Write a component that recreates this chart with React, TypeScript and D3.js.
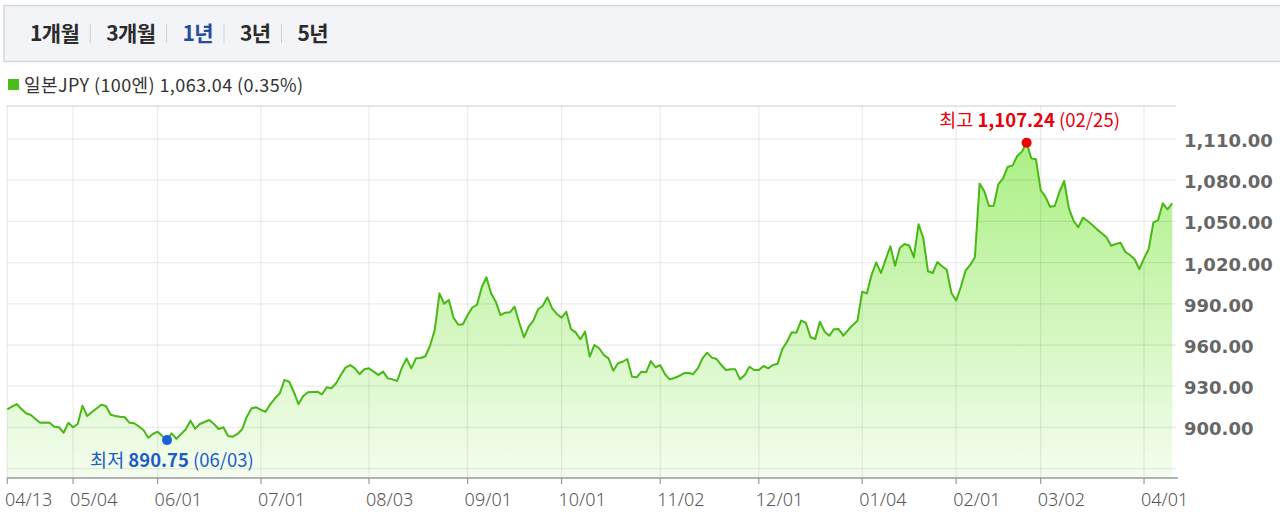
import React, { useEffect, useRef } from 'react';
import * as d3 from 'd3';

// daily rate, 100 JPY
const values = [
  913.2, 915.2, 917.0, 913.4, 910.3, 909.0, 906.1, 903.4, 903.6, 903.4,
  900.5, 900.1, 896.1, 903.4, 900.1, 902.5, 915.8, 908.3, 911.2, 913.8,
  916.5, 915.6, 909.2, 908.3, 907.8, 907.4, 903.4, 903.0, 900.7, 898.1,
  892.5, 895.2, 896.9, 893.7, 890.75, 895.7, 891.6, 895.2, 898.6, 904.9,
  899.1, 902.5, 903.9, 905.4, 902.5, 898.8, 900.1, 893.7, 893.2, 895.2,
  898.6, 907.8, 913.9, 914.6, 912.7, 911.4, 917.0, 921.2, 924.8, 934.5,
  933.3, 925.8, 917.0, 922.9, 925.6, 925.8, 926.0, 924.1, 929.2, 928.5,
  932.1, 938.2, 943.5, 945.4, 943.0, 938.7, 942.3, 943.0, 940.6, 938.2,
  940.6, 935.7, 935.0, 933.8, 943.3, 950.3, 943.0, 950.3, 950.5, 951.8,
  959.6, 970.9, 997.6, 990.1, 992.8, 979.8, 974.8, 975.1, 981.8, 987.3,
  989.3, 1001.9, 1009.3, 997.6, 991.5, 981.8, 983.5, 983.8, 987.9, 976.2,
  965.6, 973.3, 977.7, 986.0, 988.6, 994.7, 986.7, 982.6, 979.9, 984.2,
  971.6, 969.2, 964.2, 969.7, 951.5, 960.0, 957.6, 952.7, 950.3, 941.3,
  946.7, 947.8, 949.8, 936.9, 936.5, 940.6, 940.1, 948.3, 943.8, 945.4,
  938.9, 935.0, 936.0, 937.4, 939.4, 939.8, 938.7, 943.0, 950.3, 954.4,
  950.8, 949.8, 945.4, 941.8, 942.3, 942.3, 935.0, 938.2, 944.2, 941.8,
  941.8, 944.7, 943.0, 945.4, 946.4, 957.1, 962.4, 969.2, 969.0, 977.8,
  976.2, 965.6, 964.4, 977.0, 969.7, 966.8, 971.5, 971.6, 966.8, 970.9,
  974.6, 977.7, 998.8, 997.6, 1011.0, 1020.1, 1012.4, 1022.4, 1031.9, 1017.7,
  1030.6, 1033.5, 1032.5, 1023.9, 1047.9, 1038.1, 1013.7, 1012.4, 1020.4, 1017.3,
  1014.8, 997.9, 992.4, 1002.2, 1014.1, 1018.3, 1023.9, 1077.5, 1072.0, 1061.2,
  1061.4, 1077.2, 1081.4, 1089.8, 1090.6, 1097.6, 1100.8, 1107.24, 1095.9, 1095.2,
  1072.9, 1068.0, 1060.7, 1061.2, 1071.6, 1079.4, 1059.5, 1050.5, 1045.7, 1052.7,
  1050.3, 1047.4, 1044.2, 1041.3, 1038.4, 1032.3, 1033.5, 1034.5, 1027.9, 1025.5,
  1022.4, 1015.3, 1023.1, 1029.9, 1049.3, 1051.0, 1063.2, 1058.8, 1063.04,
];

const tickLabels = ['04/13', '05/04', '06/01', '07/01', '08/03', '09/01', '10/01', '11/02', '12/01', '01/04', '02/01', '03/02', '04/01'];
const tickIndex = [0, 14, 32, 54, 77, 98, 118, 139, 160, 182, 202, 220, 242];
const yGrid = [870, 900, 930, 960, 990, 1020, 1050, 1080, 1110];
const yLabels = [900, 930, 960, 990, 1020, 1050, 1080, 1110];
const periods = ['1개월', '3개월', '1년', '3년', '5년'];
const activePeriod = '1년';
const seriesName = '일본JPY (100엔)';
const changePct = 0.35;
const highDate = '02/25';
const lowDate = '06/03';

const KR = '"Noto Sans CJK KR", "Noto Sans", sans-serif';

export default function App() {
  const ref = useRef<SVGSVGElement | null>(null);

  useEffect(() => {
    document.body.style.margin = '0';
    const svg = d3.select(ref.current);
    svg.selectAll('*').remove();
    const width = 1280, height = 525;
    const plot = { left: 7, right: 1176, top: 106, bottom: 478 };

    const x = d3.scaleLinear().domain([0, values.length - 1]).range([7.3, 1172.2]);
    const y = d3.scaleLinear().domain([863.15, 1134.03]).range([plot.bottom, plot.top]);
    const fmt = d3.format(',.2f');

    svg.attr('viewBox', `0 0 ${width} ${height}`);

    // period tabs
    svg.append('rect').attr('x', 4).attr('y', 5.5).attr('width', width).attr('height', 56)
      .attr('fill', '#f3f4f7').attr('stroke', '#d3d5db').attr('stroke-width', 1.5);
    let tx = 30;
    periods.forEach((p, i) => {
      const t = svg.append('text').attr('x', tx).attr('y', 41)
        .attr('font-family', KR).attr('font-size', 21).attr('font-weight', 700)
        .attr('letter-spacing', -0.6)
        .attr('fill', p === activePeriod ? '#2a4a9c' : '#2b2b2b').text(p);
      const w = (t.node() as SVGTextElement).getComputedTextLength();
      if (i < periods.length - 1) {
        svg.append('line').attr('x1', tx + w + 11).attr('x2', tx + w + 11).attr('y1', 24).attr('y2', 43)
          .attr('stroke', '#d0d0d0').attr('stroke-width', 1);
      }
      tx += w + 27;
    });

    // legend
    svg.append('rect').attr('x', 8).attr('y', 79).attr('width', 11).attr('height', 11).attr('fill', '#4cbc19');
    svg.append('text').attr('x', 24).attr('y', 92)
      .attr('font-family', KR).attr('font-size', 18).attr('letter-spacing', 0.4).attr('fill', '#333')
      .text(`${seriesName} ${fmt(values[values.length - 1])} (${changePct.toFixed(2)}%)`);

    // area gradient
    const grad = svg.append('defs').append('linearGradient').attr('id', 'fillGrad')
      .attr('gradientUnits', 'userSpaceOnUse').attr('x1', 0).attr('x2', 0)
      .attr('y1', plot.top).attr('y2', plot.bottom);
    grad.append('stop').attr('offset', '0%').attr('stop-color', '#a3ee78');
    grad.append('stop').attr('offset', '100%').attr('stop-color', '#f4fdef');

    const area = d3.area<number>()
      .x((_, i) => x(i))
      .y0(plot.bottom)
      .y1(d => y(d));
    svg.append('path').datum(values).attr('fill', 'url(#fillGrad)').attr('d', area as any);

    // grid
    svg.append('line').attr('x1', plot.left).attr('x2', plot.right).attr('y1', plot.top).attr('y2', plot.top)
      .attr('stroke', '#e6e6e6').attr('stroke-width', 2);
    svg.append('g').selectAll('line').data(yGrid).join('line')
      .attr('x1', plot.left).attr('x2', plot.right)
      .attr('y1', d => y(d)).attr('y2', d => y(d))
      .attr('stroke', 'rgba(0,0,0,0.075)').attr('stroke-width', 1.3);
    svg.append('g').selectAll('line').data(tickIndex).join('line')
      .attr('x1', d => x(d)).attr('x2', d => x(d))
      .attr('y1', plot.top).attr('y2', plot.bottom)
      .attr('stroke', 'rgba(0,0,0,0.075)').attr('stroke-width', 1.3);

    // line
    const line = d3.line<number>().x((_, i) => x(i)).y(d => y(d));
    svg.append('path').datum(values).attr('fill', 'none').attr('stroke', '#48b814')
      .attr('stroke-width', 2).attr('stroke-linejoin', 'round').attr('d', line as any);

    // x axis
    svg.append('line').attr('x1', plot.left).attr('x2', 1178).attr('y1', plot.bottom).attr('y2', plot.bottom)
      .attr('stroke', '#999').attr('stroke-width', 1.5);
    svg.append('g').selectAll('line').data(tickIndex).join('line')
      .attr('x1', d => x(d)).attr('x2', d => x(d))
      .attr('y1', plot.bottom).attr('y2', plot.bottom + 6)
      .attr('stroke', '#999').attr('stroke-width', 1.2);
    svg.append('g').selectAll('text').data(tickIndex).join('text')
      .attr('x', d => Math.max(5, x(d) - 3)).attr('y', 506).attr('text-anchor', 'start')
      .attr('font-family', '"Noto Sans", sans-serif').attr('font-size', 18).attr('font-weight', 300)
      .attr('fill', '#555').text((_, i) => tickLabels[i]);

    // y labels
    svg.append('g').selectAll('text').data(yLabels).join('text')
      .attr('x', 1184).attr('y', d => y(d) + 8)
      .attr('font-family', '"DejaVu Sans", sans-serif').attr('font-size', 18).attr('font-weight', 700)
      .attr('fill', '#666').text(d => fmt(d));

    // high / low markers
    const hi = d3.maxIndex(values);
    const lo = d3.minIndex(values);
    svg.append('circle').attr('cx', x(hi)).attr('cy', y(values[hi])).attr('r', 5).attr('fill', '#f00000');
    svg.append('circle').attr('cx', x(lo)).attr('cy', y(values[lo])).attr('r', 5).attr('fill', '#1c62d6');

    const hiText = svg.append('text').attr('x', x(hi) + 3).attr('y', y(values[hi]) - 16)
      .attr('text-anchor', 'middle').attr('font-family', KR).attr('font-size', 18.5).attr('fill', '#e8000b');
    hiText.append('tspan').text('최고 ');
    hiText.append('tspan').attr('font-weight', 700).text(fmt(values[hi]));
    hiText.append('tspan').text(` (${highDate})`);

    const loText = svg.append('text').attr('x', x(lo) + 5).attr('y', y(values[lo]) + 27)
      .attr('text-anchor', 'middle').attr('font-family', KR).attr('font-size', 18.5).attr('fill', '#1c5bc8');
    loText.append('tspan').text('최저 ');
    loText.append('tspan').attr('font-weight', 700).text(fmt(values[lo]));
    loText.append('tspan').text(` (${lowDate})`);
  }, []);

  return <svg ref={ref} width={1280} height={525} style={{ display: 'block' }} />;
}
